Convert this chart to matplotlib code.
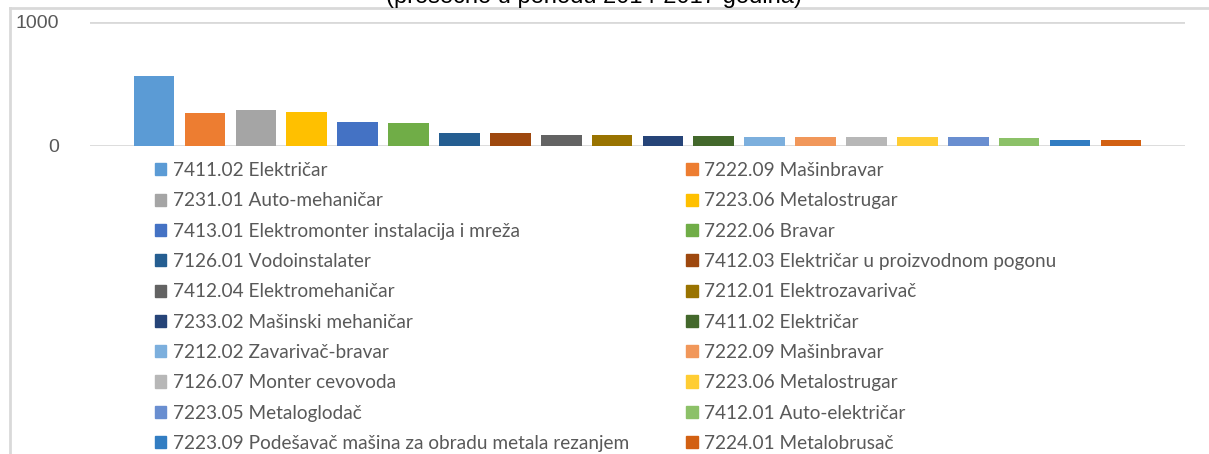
import matplotlib.pyplot as plt
from matplotlib.patches import Patch
from matplotlib.lines import Line2D

# Zanimanja i vrednosti (procena sa slike)
labels = ["7411.02 Električar", "7222.09 Mašinbravar", "7231.01 Auto-mehaničar",
          "7223.06 Metalostrugar", "7413.01 Elektromonter instalacija i mreža",
          "7222.06 Bravar", "7126.01 Vodoinstalater",
          "7412.03 Električar u proizvodnom pogonu", "7412.04 Elektromehaničar",
          "7212.01 Elektrozavarivač", "7233.02 Mašinski mehaničar",
          "7411.02 Električar", "7212.02 Zavarivač-bravar", "7222.09 Mašinbravar",
          "7126.07 Monter cevovoda", "7223.06 Metalostrugar", "7223.05 Metaloglodač",
          "7412.01 Auto-električar", "7223.09 Podešavač mašina za obradu metala rezanjem",
          "7224.01 Metalobrusač"]
values = [565, 266, 290, 274, 194, 185, 105, 105, 89, 89,
          81, 81, 73, 73, 73, 73, 73, 65, 48, 48]
colors = ["#5B9BD5", "#ED7D31", "#A5A5A5", "#FFC000", "#4472C4", "#70AD47",
          "#255E91", "#9E480E", "#636363", "#997300", "#264478", "#43682B",
          "#7CAFDD", "#F1975A", "#B7B7B7", "#FFCD33", "#698ED0", "#8CC168",
          "#327DC2", "#D26012"]
title = "(prosečno u periodu 2014-2017 godina)"

W, H = 1209, 454
fig = plt.figure(figsize=(W / 100, H / 100), dpi=100)
ax = fig.add_axes([90 / W, 1 - 146 / H, (1185 - 90) / W, (146 - 22) / H])

x = list(range(len(values)))
bars = ax.bar(x, values, width=0.8, color=colors, zorder=3)
ax.set_xlim(-1.26, len(values) - 1 + 1.26)
ax.set_ylim(0, 1000)
ax.set_yticks([0, 1000])
ax.set_xticks([])
ax.grid(axis="y", color="#d9d9d9", linewidth=2, zorder=0)
for s in ax.spines.values():
    s.set_visible(False)
ax.tick_params(axis="y", length=0, pad=22, labelsize=14, labelcolor="#595959")
for t in ax.get_yticklabels():
    t.set_fontfamily("Liberation Sans")

# okvir grafikona (levo i gore)
fig.add_artist(Line2D([10 / W, 10 / W], [0, 1 - 8 / H], color="#d9d9d9", lw=2))
fig.add_artist(Line2D([10 / W, 1], [1 - 8 / H, 1 - 8 / H], color="#d9d9d9", lw=2))

# naslov je u originalu odsecen na vrhu
fig.text(594 / W, 1 - 2.5 / H, title, ha="center", va="baseline", fontsize=17,
         family="Liberation Sans", color="black")

# legenda red po red (2 kolone)
handles = [Patch(color=c) for c in colors]
order = list(range(0, 20, 2)) + list(range(1, 20, 2))
leg = fig.legend([handles[i] for i in order], [labels[i] for i in order],
                 ncol=2, loc="upper left", bbox_to_anchor=(155 / W, 1 - 162 / H),
                 frameon=False, handlelength=0.6, handleheight=0.6,
                 handletextpad=0.35, labelspacing=0.7, columnspacing=3.0,
                 borderpad=0, borderaxespad=0,
                 prop={"family": "Lato", "size": 13.7})
for t in leg.get_texts():
    t.set_color("#595959")

fig.savefig("out.png", dpi=100)
